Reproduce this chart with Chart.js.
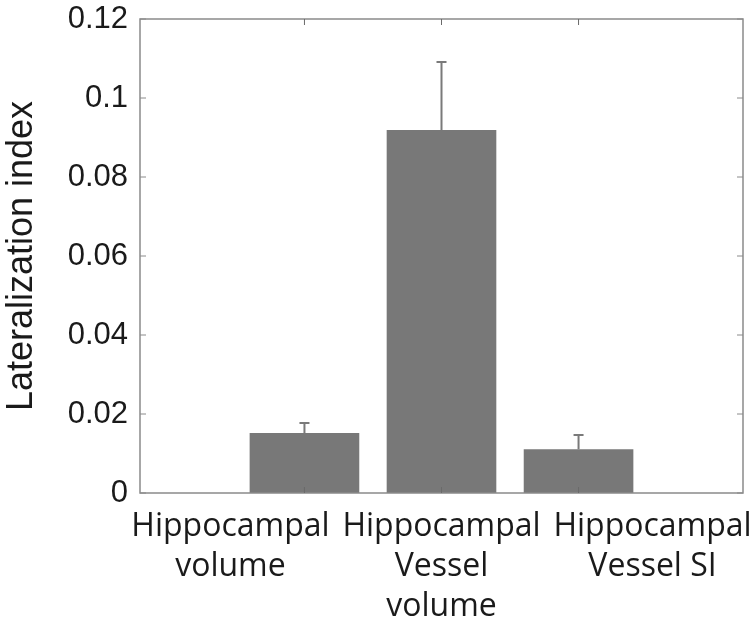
<!DOCTYPE html>
<html>
<head>
<meta charset="utf-8">
<script src="https://cdn.jsdelivr.net/npm/chart.js@4/dist/chart.umd.min.js"></script>
<style>
  html, body { margin: 0; padding: 0; background: #ffffff; }
  #wrap { width: 754px; height: 630px; position: relative; }
</style>
</head>
<body>
<div id="wrap"><canvas id="c" width="754" height="630"></canvas></div>
<script>
// ---- data ----
const categories = [["Hippocampal", "volume"], ["Hippocampal", "Vessel", "volume"], ["Hippocampal", "Vessel SI"]];
const barPositions = [1, 2, 3];
const labelPositions = [0.46, 2, 3.54];
const values = [0.0152, 0.0919, 0.0111];
const errorUpper = [0.0025, 0.0172, 0.0036];
const yTicks = [0, 0.02, 0.04, 0.06, 0.08, 0.1, 0.12];
const yTickLabels = ["0", "0.02", "0.04", "0.06", "0.08", "0.1", "0.12"];
const yTitle = "Lateralization index";

const AXIS_COLOR = "#8a8a8a";
const BAR_COLOR = "#787878";
const TEXT_COLOR = "#1a1a1a";

const boxPlugin = {
  id: "boxAndErrors",
  afterDatasetsDraw(chart) {
    const ctx = chart.ctx;
    const xs = chart.scales.x, ys = chart.scales.y;
    const a = chart.chartArea;
    ctx.save();
    // error bars (upper only)
    ctx.strokeStyle = "#7a7a7a";
    ctx.lineWidth = 2;
    values.forEach((v, i) => {
      const px = xs.getPixelForValue(barPositions[i]);
      const y0 = ys.getPixelForValue(v);
      const y1 = ys.getPixelForValue(v + errorUpper[i]);
      ctx.beginPath();
      ctx.moveTo(px, y0);
      ctx.lineTo(px, y1);
      ctx.moveTo(px - 5, y1);
      ctx.lineTo(px + 5, y1);
      ctx.stroke();
    });
    // axes box
    ctx.strokeStyle = AXIS_COLOR;
    ctx.lineWidth = 1.5;
    ctx.strokeRect(a.left, a.top, a.right - a.left, a.bottom - a.top);
    // inside ticks
    ctx.lineWidth = 1;
    const tl = 6;
    yTicks.forEach(t => {
      const py = ys.getPixelForValue(t);
      ctx.beginPath();
      ctx.moveTo(a.left, py); ctx.lineTo(a.left + tl, py);
      ctx.moveTo(a.right, py); ctx.lineTo(a.right - tl, py);
      ctx.stroke();
    });
    ctx.strokeStyle = "#6a6a6a";
    barPositions.forEach(p => {
      const px = xs.getPixelForValue(p);
      ctx.beginPath();
      ctx.moveTo(px, a.bottom); ctx.lineTo(px, a.bottom - tl);
      ctx.moveTo(px, a.top); ctx.lineTo(px, a.top + tl);
      ctx.stroke();
    });
    ctx.restore();
  }
};

new Chart(document.getElementById("c"), {
  type: "bar",
  data: {
    datasets: [{
      data: barPositions.map((p, i) => ({ x: p, y: values[i] })),
      backgroundColor: BAR_COLOR,
      borderWidth: 0,
      barPercentage: 0.8,
      categoryPercentage: 1.0
    }]
  },
  options: {
    responsive: false,
    animation: false,
    devicePixelRatio: 1,
    layout: { padding: { left: 0, top: 19, right: 11, bottom: 0 } },
    plugins: { legend: { display: false }, tooltip: { enabled: false } },
    scales: {
      x: {
        type: "linear",
        min: -0.2,
        max: 4.2,
        offset: false,
        grid: { display: false, drawTicks: false, offset: false },
        border: { display: false },
        afterBuildTicks(scale) { scale.ticks = labelPositions.map(v => ({ value: v })); },
        afterFit(scale) { scale.height = 137; scale.paddingLeft = 0; scale.paddingRight = 0; },
        ticks: {
          autoSkip: false,
          maxRotation: 0,
          minRotation: 0,
          padding: 14,
          color: TEXT_COLOR,
          font: { family: "'Open Sans'", size: 32, lineHeight: 1.25 },
          callback: (v, i) => categories[i]
        }
      },
      y: {
        min: 0,
        max: 0.12,
        grid: { display: false, drawTicks: false },
        border: { display: false },
        afterBuildTicks(scale) { scale.ticks = yTicks.map(v => ({ value: v })); },
        afterFit(scale) { scale.width = 140; scale.paddingTop = 0; scale.paddingBottom = 0; },
        ticks: {
          padding: 12,
          color: TEXT_COLOR,
          font: { family: "'Liberation Sans', Arial", size: 31 },
          callback: (v, i) => yTickLabels[i]
        },
        title: {
          display: true,
          text: yTitle,
          color: TEXT_COLOR,
          padding: { top: 0, bottom: 4 },
          font: { family: "'Liberation Sans', Arial", size: 36 }
        }
      }
    }
  },
  plugins: [boxPlugin]
});
</script>
</body>
</html>
